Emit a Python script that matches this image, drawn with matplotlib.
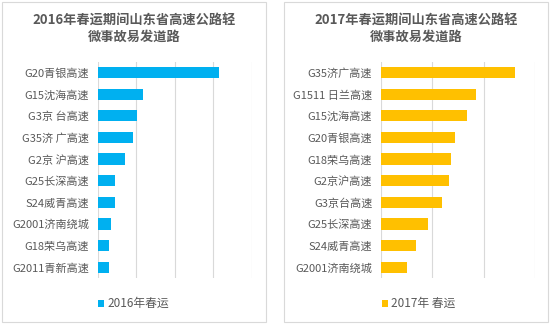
import matplotlib
matplotlib.use("Agg")
from matplotlib import pyplot as plt
from matplotlib.patches import Rectangle

plt.rcParams['font.family'] = ['Noto Sans CJK SC', 'DejaVu Sans']

# 2016 data (relative values)
roads2016 = ["G20青银高速", "G15沈海高速", "G3京 台高速", "G35济 广高速", "G2京 沪高速",
             "G25长深高速", "S24威青高速", "G2001济南绕城", "G18荣乌高速", "G2011青新高速"]
values2016 = [157, 59, 51, 46, 35, 23, 22, 17, 15, 15]

# 2017 data
roads2017 = ["G35济广高速", "G1511 日兰高速", "G15沈海高速", "G20青银高速", "G18荣乌高速",
             "G2京沪高速", "G3京台高速", "G25长深高速", "S24威青高速", "G2001济南绕城"]
values2017 = [131, 93, 84, 72, 68, 66, 60, 46, 34, 26]

textColor = "#595959"
gridColor = "#D9D9D9"

fig = plt.figure(figsize=(5.5, 3.25), dpi=100)
W, H = 550.0, 325.0

def px(x0, y0, x1, y1):
    # convert pixel box (top-left origin) to figure fraction rect
    return [x0 / W, 1 - y1 / H, (x1 - x0) / W, (y1 - y0) / H]

def drawPanel(box, axbox, title, labels, values, color, legendText, xmax, legX):
    # panel border, kept behind the axes
    r = px(*box)
    fig.patches.append(Rectangle((r[0], r[1]), r[2], r[3], transform=fig.transFigure,
                                 facecolor="white", edgecolor="#D9D9D9", linewidth=0.8,
                                 zorder=-10))
    cx = (box[0] + box[2]) / 2.0 / W
    fig.text(cx, 1 - 28 / H, title, ha="center", va="center", fontsize=9.5,
             fontweight="bold", color=textColor, linespacing=1.3)

    ax = fig.add_axes(px(*axbox))
    ax.patch.set_alpha(0)
    pos = list(range(len(labels)))
    ax.barh(pos, values, height=0.52, color=color)
    ax.set_ylim(len(labels) - 0.5, -0.5)
    ax.set_xlim(0, xmax)
    ax.set_xticks(range(0, xmax + 1, 50))
    ax.set_xticklabels([])
    ax.set_yticks(pos)
    ax.set_yticklabels(labels, fontsize=8, color=textColor)
    ax.tick_params(length=0, pad=6)
    ax.grid(axis="x", color=gridColor, linewidth=0.8)
    ax.set_axisbelow(True)
    for s in ax.spines.values():
        s.set_visible(False)

    # legend
    fig.patches.append(Rectangle((legX / W, 1 - 307 / H), 6 / W, 7 / H,
                                 transform=fig.transFigure, facecolor=color, edgecolor="none"))
    fig.text((legX + 9) / W, 1 - 303.5 / H, legendText, ha="left", va="center",
             fontsize=8.5, color=textColor)

drawPanel((2, 2, 266, 322), (97.7, 61.7, 252, 278),
          "2016年春运期间山东省高速公路轻\n微事故易发道路",
          roads2016, values2016, "#00B0F0", "2016年春运", 200, 98)

drawPanel((284, 2, 548, 322), (380.7, 61.7, 535, 278),
          "2017年春运期间山东省高速公路轻\n微事故易发道路",
          roads2017, values2017, "#FFC000", "2017年 春运", 150, 382)

fig.savefig("out.png", dpi=100)
